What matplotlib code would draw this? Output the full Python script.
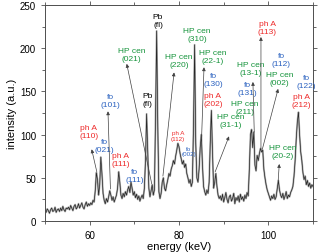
import numpy as np
import matplotlib
matplotlib.use('Agg')
import matplotlib.pyplot as plt
from matplotlib.ticker import MultipleLocator

plt.rcParams['font.family'] = ['Liberation Sans', 'DejaVu Sans']

# spectrum, one row per keV (steps of 0.25 keV), from 50 keV
rows = [
    [13, 10, 14, 12], [9, 13, 15, 11], [12, 16, 10, 13], [14, 11, 15, 12],      # 50-53
    [17, 13, 11, 15], [14, 16, 13, 18], [15, 12, 17, 19], [14, 16, 20, 15],     # 54-57
    [18, 21, 16, 14], [19, 22, 17, 20], [18, 21, 19, 24], [22, 35, 56, 48],     # 58-61
    [30, 42, 74, 55], [32, 24, 20, 26], [22, 28, 35, 30], [24, 28, 22, 26],     # 62-65
    [30, 38, 57, 45], [30, 26, 32, 28], [34, 30, 36, 40], [33, 45, 38, 30],     # 66-69
    [34, 27, 31, 25], [29, 23, 27, 30], [26, 38, 70, 124], [80, 38, 28, 35],    # 70-73
    [42, 30, 36, 120], [220, 110, 34, 26], [32, 45, 50, 38], [35, 42, 48, 55],  # 74-77
    [52, 60, 64, 70], [66, 75, 82, 90], [86, 78, 72, 66], [70, 62, 66, 55],     # 78-81
    [50, 44, 48, 40], [45, 110, 204, 90], [50, 45, 60, 85], [100, 65, 40, 34],  # 82-85
    [30, 36, 32, 45], [90, 128, 80, 38], [45, 55, 40, 30], [26, 29, 24, 31],    # 86-89
    [22, 27, 33, 25], [21, 28, 30, 23], [26, 32, 20, 27], [24, 29, 22, 31],     # 90-93
    [25, 28, 23, 30], [26, 33, 29, 60], [100, 106, 85, 103], [65, 58, 76, 70],  # 94-97
    [78, 84, 80, 82], [60, 50, 42, 36], [32, 28, 24, 29], [26, 31, 25, 28],     # 98-101
    [38, 47, 36, 30], [27, 32, 25, 29], [34, 26, 30, 28], [33, 36, 40, 52],     # 102-105
    [70, 95, 115, 126], [100, 80, 70, 56], [48, 52, 42, 47], [40, 44, 38, 42],  # 106-109
    [40],                                                                       # 110
]
intensity = np.array([v for r in rows for v in r], dtype=float)
energy = 50 + 0.25 * np.arange(len(intensity))

RED = '#ee2a2a'
BLUE = '#2b62c0'
GREEN = '#16943c'

fig = plt.figure(figsize=(3.2, 2.53), dpi=100)
ax = fig.add_axes([0.1406, 0.1225, 0.8375, 0.8535])

ax.plot(energy, intensity, color='0.7', lw=1.4)
ax.plot(energy, intensity, color='0.15', lw=0.5)

ax.set_xlim(50, 110)
ax.set_ylim(0, 250)
ax.xaxis.set_major_locator(MultipleLocator(20))
ax.xaxis.set_minor_locator(MultipleLocator(10))
ax.yaxis.set_major_locator(MultipleLocator(50))
ax.yaxis.set_minor_locator(MultipleLocator(25))
ax.tick_params(which='both', direction='out', top=True, right=True,
               labelsize=7, width=0.6, color='0.3')
ax.tick_params(which='major', length=3)
ax.tick_params(which='minor', length=2)
for s in ax.spines.values():
    s.set_linewidth(0.7)
    s.set_color('0.3')
ax.set_xlabel('energy (keV)', fontsize=8, labelpad=1)
ax.set_ylabel('intensity (a.u.)', fontsize=8, labelpad=2)

# peak labels (text, x, y, colour, size)
labels = [
    ('ph A\n(110)', 59.8, 104, RED, 6),
    ('fo\n(021)', 63.2, 87, BLUE, 6),
    ('fo\n(101)', 64.7, 140, BLUE, 6),
    ('ph A\n(111)', 67.0, 71, RED, 6),
    ('fo\n(111)', 70.0, 53, BLUE, 6),
    ('Pb\n(fl)', 72.9, 141, 'black', 6),
    ('Pb\n(fl)', 75.3, 232, 'black', 6),
    ('HP cen\n(021)', 69.4, 193, GREEN, 6),
    ('HP cen\n(220)', 80.0, 186, GREEN, 6),
    ('ph A\n(112)', 79.8, 99, RED, 4.5),
    ('fo\n(002)', 82.2, 81, BLUE, 4.5),
    ('HP cen\n(310)', 84.0, 216, GREEN, 6),
    ('HP cen\n(22-1)', 87.6, 190, GREEN, 6),
    ('fo\n(130)', 87.6, 164, BLUE, 6),
    ('ph A\n(202)', 87.6, 141, RED, 6),
    ('HP cen\n(31-1)', 91.5, 116, GREEN, 6),
    ('HP cen\n(13-1)', 96.0, 177, GREEN, 6),
    ('fo\n(131)', 95.3, 153, BLUE, 6),
    ('HP cen\n(211)', 94.8, 131, GREEN, 6),
    ('ph A\n(113)', 99.8, 224, RED, 6),
    ('fo\n(112)', 102.9, 187, BLUE, 6),
    ('HP cen\n(002)', 102.5, 165, GREEN, 6),
    ('fo\n(122)', 108.5, 161, BLUE, 6),
    ('ph A\n(212)', 107.4, 139, RED, 6),
    ('HP cen\n(20-2)', 103.2, 81, GREEN, 6),
]
for txt, x, y, c, fs in labels:
    ax.text(x, y, txt, color=c, fontsize=fs, ha='center', va='center',
            linespacing=1.2)

# arrows: head at the label end, tail at the peak
arrows = [
    ((60.45, 83), (61.6, 57)),
    ((64.1, 127), (64.65, 37)),
    ((68.3, 182), (73.9, 43)),
    ((78.9, 172), (76.4, 52)),
    ((85.6, 178), (85.05, 95)),
    ((91.2, 98), (88.1, 57)),
    ((96.55, 161), (96.85, 103)),
    ((98.35, 213), (98.35, 83)),
    ((102.2, 153), (98.65, 83)),
    ((102.45, 66), (102.2, 46)),
]
for head, tail in arrows:
    ax.annotate('', xy=head, xytext=tail,
                arrowprops=dict(arrowstyle='-|>', color='0.25', lw=0.5,
                                mutation_scale=5, shrinkA=0, shrinkB=0))

fig.savefig('out.png', dpi=100)
